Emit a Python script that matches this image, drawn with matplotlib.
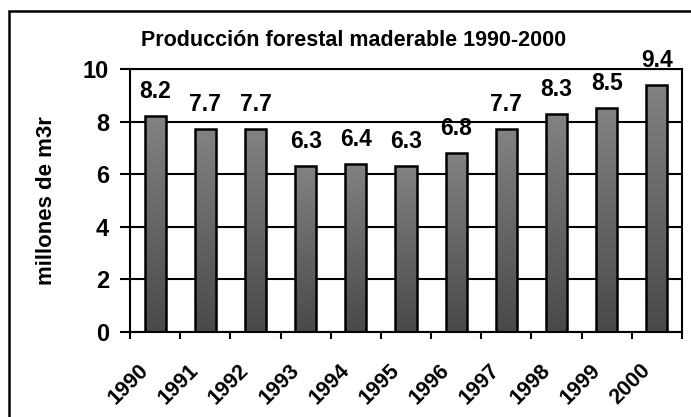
import matplotlib
matplotlib.use("Agg")
import matplotlib.pyplot as plt
import matplotlib.transforms as mtransforms
from matplotlib.colors import LinearSegmentedColormap
from matplotlib.patches import Rectangle
import numpy as np

years = ["1990", "1991", "1992", "1993", "1994", "1995",
         "1996", "1997", "1998", "1999", "2000"]
produccion = [8.2, 7.7, 7.7, 6.3, 6.4, 6.3, 6.8, 7.7, 8.3, 8.5, 9.4]
titulo = "Producción forestal maderable 1990-2000"
ylabel = "millones de m3r"

plt.rcParams['font.family'] = ['Liberation Sans', 'DejaVu Sans']
plt.rcParams['font.weight'] = 'bold'

W, H = 691, 417
fig = plt.figure(figsize=(W / 100, H / 100), dpi=100)
ax = fig.add_axes([130 / W, 1 - 332 / H, (682 - 130) / W, (332 - 69) / H])

# outer chart frame (runs off the right and bottom edges)
fig.patches.append(Rectangle((9 / W, -0.1), 1.2, 1 - 11 / H + 0.1,
                             transform=fig.transFigure, fill=False,
                             edgecolor='black', linewidth=1.8))

x = np.arange(len(years))
width = 0.42
bars = ax.bar(x, produccion, width=width, color='none', edgecolor='black',
              linewidth=1.8, zorder=3)

# vertical gray gradient inside each bar
cmap = LinearSegmentedColormap.from_list("g", ["#494949", "#828282"])
grad = np.linspace(0, 1, 256).reshape(-1, 1)
for b in bars:
    x0, y0 = b.get_x(), b.get_y()
    w, h = b.get_width(), b.get_height()
    im = ax.imshow(grad, cmap=cmap, extent=[x0, x0 + w, y0, y0 + h],
                   origin='lower', aspect='auto', zorder=2, vmin=0, vmax=1)
    im.set_clip_path(b)

for xi, v in zip(x, produccion):
    ax.annotate(f"{v:.1f}", (xi, v), xytext=(0, 13), textcoords='offset points',
                ha='center', va='baseline', fontsize=16.5, fontweight='bold')

ax.set_xlim(-0.5, len(years) - 0.5)
ax.set_ylim(0, 10)
ax.set_yticks([0, 2, 4, 6, 8, 10])
ax.tick_params(axis='y', labelsize=17, length=7, width=1.5, pad=8)
ax.grid(axis='y', color='black', linewidth=1.5, zorder=1)
ax.set_axisbelow(True)

ax.set_xticks(np.arange(len(years) + 1) - 0.5)
ax.set_xticklabels([])
ax.tick_params(axis='x', length=5, width=1.5)
ax.set_xticks(x, minor=True)
ax.set_xticklabels(years, minor=True, rotation=45, ha='right',
                   rotation_mode='anchor', fontsize=15.5, fontweight='bold')
ax.tick_params(axis='x', which='minor', length=0, pad=20)
shift = mtransforms.ScaledTranslation(-17 / 100, 0, fig.dpi_scale_trans)
for lab in ax.get_xticklabels(minor=True):
    lab.set_transform(lab.get_transform() + shift)

for s in ax.spines.values():
    s.set_linewidth(1.5)

ax.set_ylabel(ylabel, fontsize=16, fontweight='bold')
ax.yaxis.set_label_coords((57 - 130) / (682 - 130), 0.5)
fig.text(354 / W, 1 - 40 / H, titulo, ha='center', va='center',
         fontsize=15.5, fontweight='bold')

fig.savefig("out.png", dpi=100)
